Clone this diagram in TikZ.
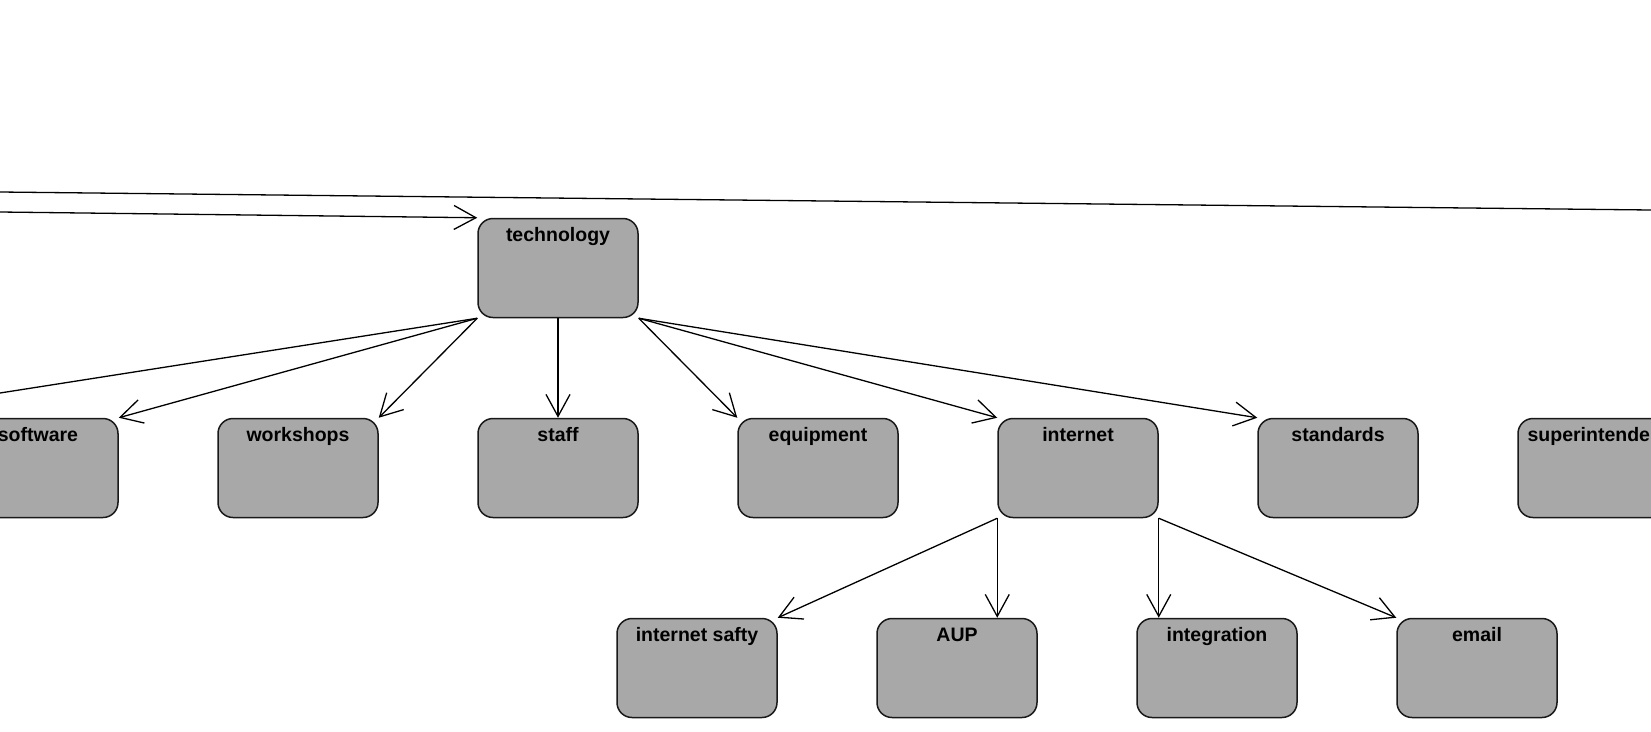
\documentclass[tikz,border=0pt]{standalone}
\usepackage{fontspec}
\setmainfont{Liberation Sans}
\usetikzlibrary{arrows.meta}
\definecolor{boxgray}{HTML}{A8A8A8}
\begin{document}
\begin{tikzpicture}[x=1pt,y=-1pt,
  statebox/.style={draw=black!90, line width=1.5pt, fill=boxgray, rounded corners=15pt,
    minimum width=160pt, minimum height=99pt, inner sep=0pt,
    text height=23pt, text depth=76pt, font=\bfseries\fontsize{19.5}{20}\selectfont},
  link/.style={draw=black, line width=1.3pt},
  arrowlink/.style={link, -{Straight Barb[length=22pt,width=24pt,line width=1.3pt]}}]
\fill[white] (0,0) rectangle (1651,731);
\useasboundingbox (0,0) rectangle (1651,731);
% nodes
\node[statebox] (tech) at (558,268) {technology};
\node[statebox] (software) at (38,468) {software};
\node[statebox] (workshops) at (298,468) {workshops};
\node[statebox] (staff) at (558,468) {staff};
\node[statebox] (equipment) at (818,468) {equipment};
\node[statebox] (internet) at (1078,468) {internet};
\node[statebox] (standards) at (1338,468) {standards};
\node[statebox] (superint) at (1598,468) {superintendent};
\node[statebox] (safety) at (697,668) {internet safty};
\node[statebox] (aup) at (957,668) {AUP};
\node[statebox] (integ) at (1217,668) {integration};
\node[statebox] (email) at (1477,668) {email};
% free ends
\coordinate (topL) at (0,192);
\coordinate (topR) at (1651,210);
\coordinate (inL) at (0,212);
\coordinate (offL) at (0,393);
% connectors
\draw[link] (topL) -- (topR);
\draw[arrowlink] (inL) -- (tech.north west);
\draw[link] (tech.south west) -- (offL);
\draw[arrowlink] (tech.south west) -- (software.north east);
\draw[arrowlink] (tech.south west) -- (workshops.north east);
\draw[arrowlink] (tech.south) -- (staff.north);
\draw[arrowlink] (tech.south east) -- (equipment.north west);
\draw[arrowlink] (tech.south east) -- (internet.north west);
\draw[arrowlink] (tech.south east) -- (standards.north west);
\draw[arrowlink] (internet.south west) -- (safety.north east);
\draw[arrowlink] (internet.south west) -- (internet.south west |- aup.north);
\draw[arrowlink] (internet.south east) -- (internet.south east |- integ.north);
\draw[arrowlink] (internet.south east) -- (email.north west);
\end{tikzpicture}
\end{document}
